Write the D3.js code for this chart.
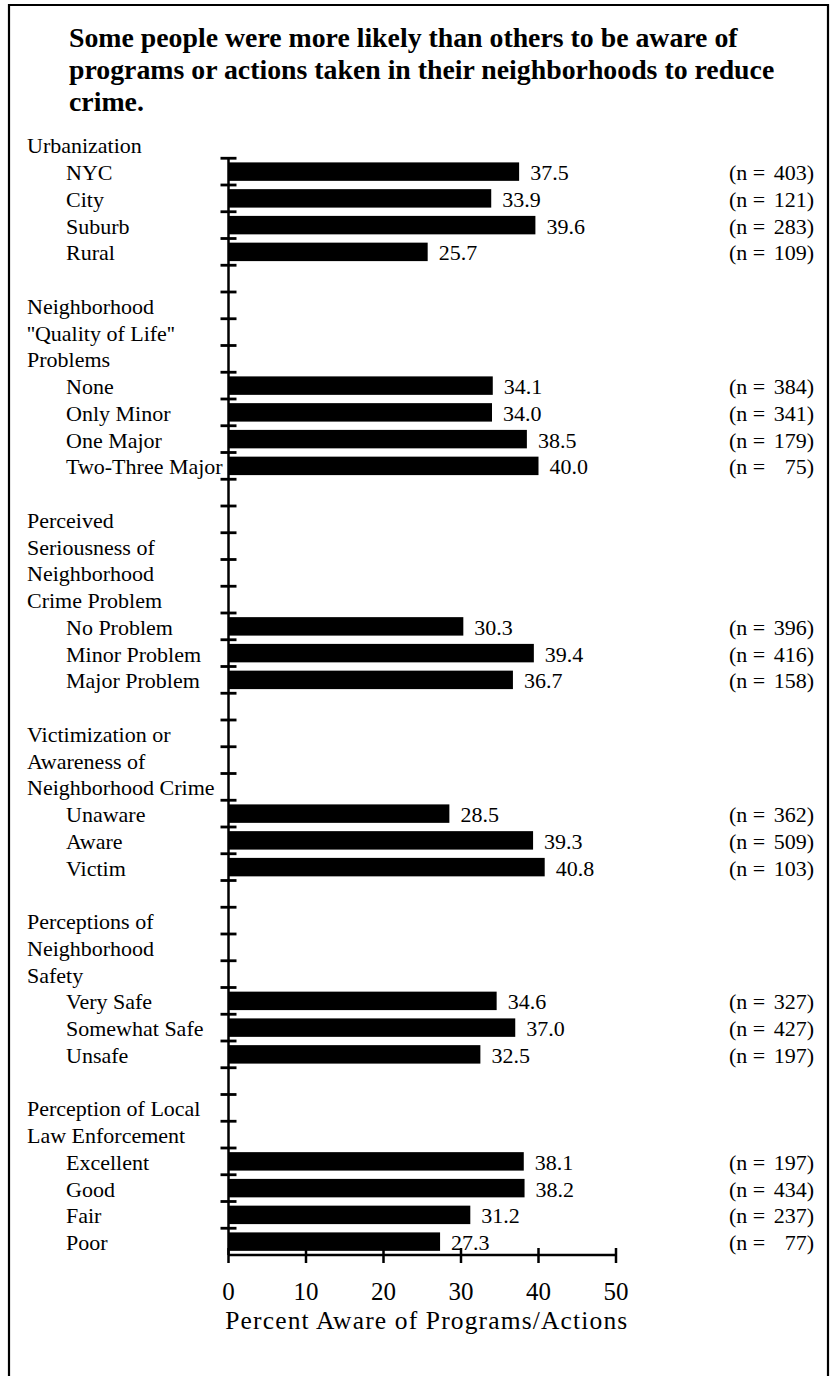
<!DOCTYPE html>
<html>
<head>
<meta charset="utf-8">
<script src="https://cdn.jsdelivr.net/npm/d3@7"></script>
<style>
  html, body { margin: 0; padding: 0; background: #fff; }
  svg { display: block; }
  text { font-family: "Liberation Serif", "Times New Roman", serif; fill: #000; }
</style>
</head>
<body>
<script>
// ---------- data ----------
const titleLines = [
  "Some people were more likely than others to be aware of",
  "programs or actions taken in their neighborhoods to reduce",
  "crime."
];
const groupHeaders = [
  ["Urbanization"],
  ["Neighborhood", "''Quality of Life''", "Problems"],
  ["Perceived", "Seriousness of", "Neighborhood", "Crime Problem"],
  ["Victimization or", "Awareness of", "Neighborhood Crime"],
  ["Perceptions of", "Neighborhood", "Safety"],
  ["Perception of Local", "Law Enforcement"]
];
const categories = [
  ["NYC", "City", "Suburb", "Rural"],
  ["None", "Only Minor", "One Major", "Two-Three Major"],
  ["No Problem", "Minor Problem", "Major Problem"],
  ["Unaware", "Aware", "Victim"],
  ["Very Safe", "Somewhat Safe", "Unsafe"],
  ["Excellent", "Good", "Fair", "Poor"]
];
const percentAware = [
  [37.5, 33.9, 39.6, 25.7],
  [34.1, 34.0, 38.5, 40.0],
  [30.3, 39.4, 36.7],
  [28.5, 39.3, 40.8],
  [34.6, 37.0, 32.5],
  [38.1, 38.2, 31.2, 27.3]
];
const sampleSizes = [
  [403, 121, 283, 109],
  [384, 341, 179, 75],
  [396, 416, 158],
  [362, 509, 103],
  [327, 427, 197],
  [197, 434, 237, 77]
];
const xTicks = [0, 10, 20, 30, 40, 50];
const xAxisTitle = "Percent Aware of Programs/Actions";

// ---------- build rows ----------
const rows = [];
groupHeaders.forEach((hdr, g) => {
  if (g > 0) rows.push({ kind: "blank", label: "" });
  hdr.forEach(h => rows.push({ kind: "header", label: h }));
  categories[g].forEach((c, i) => rows.push({
    kind: "item", label: c, value: percentAware[g][i], n: sampleSizes[g][i]
  }));
});
rows.forEach((r, i) => r.idx = i);

// ---------- layout ----------
const W = 831, H = 1376;
const svg = d3.select("body").append("svg").attr("width", W).attr("height", H);

const x = d3.scaleLinear().domain([0, 50]).range([228.5, 616]);
const slot = d3.scaleBand().domain(d3.range(rows.length)).range([131.5, 1255]).padding(0);
const barY = d3.scaleBand().domain(d3.range(rows.length)).range([131.5, 1255])
  .paddingInner(0.31).paddingOuter(0.155);
const yc = i => slot(i) + slot.bandwidth() / 2;
const baseOff = 8.5;

// frame
svg.append("path").attr("d", `M9,${H} V5 H828 V${H}`)
  .attr("fill", "none").attr("stroke", "#000").attr("stroke-width", 2.2);

// title
svg.append("g").selectAll("text").data(titleLines).join("text")
  .attr("x", 69)
  .attr("y", (d, i) => 46.5 + i * 32)
  .attr("font-size", 27.8)
  .attr("font-weight", "bold")
  .text(d => d);

// category labels
const labelFont = 22;
svg.append("g").selectAll("text").data(rows.filter(r => r.kind !== "blank")).join("text")
  .attr("x", d => d.kind === "header" ? 27 : 66)
  .attr("y", d => yc(d.idx) + baseOff)
  .attr("font-size", labelFont)
  .text(d => d.label);

const items = rows.filter(r => r.kind === "item");

// bars
svg.append("g").selectAll("rect").data(items).join("rect")
  .attr("x", x(0))
  .attr("y", d => barY(d.idx))
  .attr("width", d => x(d.value) - x(0))
  .attr("height", barY.bandwidth())
  .attr("fill", "#000");

// value labels
svg.append("g").selectAll("text").data(items).join("text")
  .attr("x", d => x(d.value) + 11)
  .attr("y", d => yc(d.idx) + baseOff)
  .attr("font-size", labelFont)
  .text(d => d.value.toFixed(1));

// n labels
const nG = svg.append("g");
nG.selectAll("text.pre").data(items).join("text").attr("class", "pre")
  .attr("x", 729)
  .attr("y", d => yc(d.idx) + baseOff)
  .attr("font-size", labelFont)
  .text("(n =");
nG.selectAll("text.num").data(items).join("text").attr("class", "num")
  .attr("x", 814)
  .attr("y", d => yc(d.idx) + baseOff)
  .attr("font-size", labelFont)
  .attr("text-anchor", "end")
  .text(d => d.n + ")");

// y axis (line + crossing ticks at slot boundaries)
const yAxis = svg.append("g").attr("stroke", "#000");
const firstSlot = 1;
const yTop = slot(firstSlot), yBot = slot.range()[1];
yAxis.append("line")
  .attr("x1", x(0)).attr("x2", x(0)).attr("y1", yTop).attr("y2", yBot)
  .attr("stroke-width", 2.5);
const boundaries = d3.range(firstSlot, rows.length).map(i => slot(i));
yAxis.selectAll("line.tk").data(boundaries).join("line").attr("class", "tk")
  .attr("x1", x(0) - 8).attr("x2", x(0) + 8)
  .attr("y1", d => d).attr("y2", d => d)
  .attr("stroke-width", 2.8);

// x axis
const xAxis = svg.append("g");
xAxis.append("line")
  .attr("x1", x(0)).attr("x2", x(50)).attr("y1", yBot).attr("y2", yBot)
  .attr("stroke", "#000").attr("stroke-width", 2.5);
xAxis.selectAll("line.tk").data(xTicks).join("line").attr("class", "tk")
  .attr("x1", d => x(d)).attr("x2", d => x(d))
  .attr("y1", yBot - 7).attr("y2", yBot + 8)
  .attr("stroke", "#000").attr("stroke-width", 2.5);
xAxis.selectAll("text").data(xTicks).join("text")
  .attr("x", d => x(d))
  .attr("y", 1300)
  .attr("text-anchor", "middle")
  .attr("font-size", 25)
  .text(d => d);
svg.append("text")
  .attr("x", (x(0) + x(50)) / 2 + 4)
  .attr("y", 1329)
  .attr("text-anchor", "middle")
  .attr("font-size", 25.5)
  .attr("textLength", 402)
  .attr("lengthAdjust", "spacing")
  .text(xAxisTitle);
</script>
</body>
</html>
